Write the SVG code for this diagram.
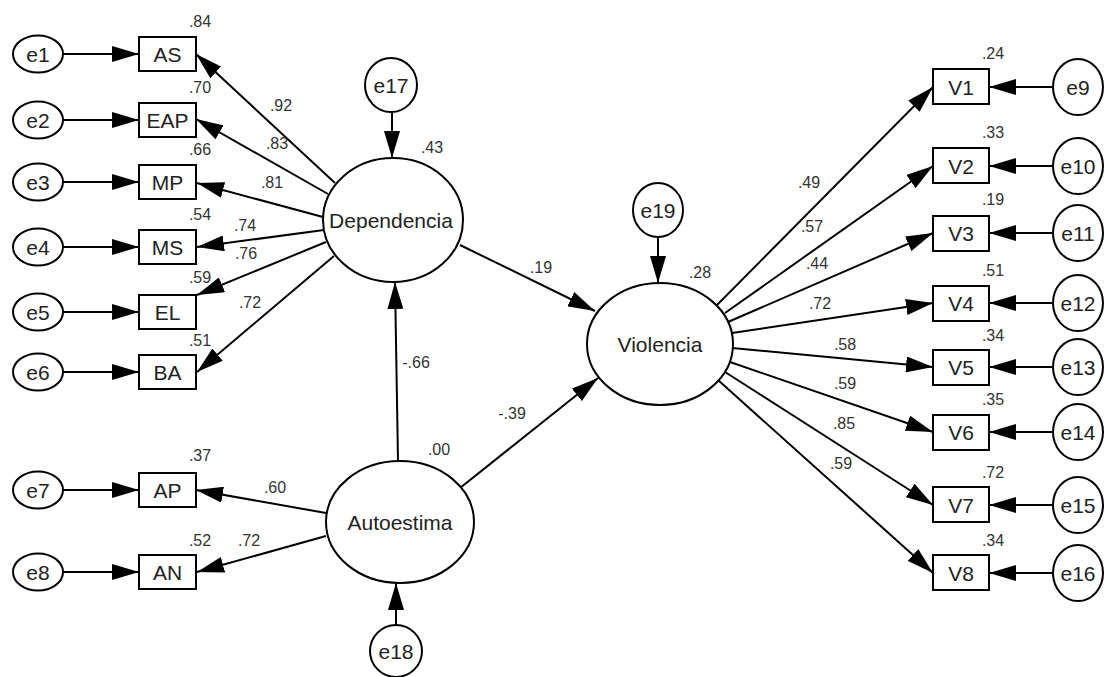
<svg xmlns="http://www.w3.org/2000/svg" width="1105" height="677" viewBox="0 0 1105 677">
<defs>
<marker id="ah" markerUnits="userSpaceOnUse" markerWidth="28" markerHeight="16" refX="27" refY="8" orient="auto">
<path d="M0,0 L27,8 L0,16 z" fill="#000"/>
</marker>
<style>
.n{fill:#fff;stroke:#000;stroke-width:2}
.t{font-family:"Liberation Sans",Arial,sans-serif;font-size:21px;fill:#222;text-anchor:middle;dominant-baseline:central}
.v{font-family:"Liberation Sans",Arial,sans-serif;font-size:16px;fill:#333;text-anchor:middle;dominant-baseline:central}
.c line{stroke:#000;stroke-width:2;marker-end:url(#ah)}
</style>
</defs>
<rect width="1105" height="677" fill="#fff"/>
<g class="c" id="connectors">
<line x1="63" y1="54" x2="139" y2="54"/>
<line x1="63" y1="120" x2="139" y2="120"/>
<line x1="63" y1="182" x2="139" y2="182"/>
<line x1="63" y1="247" x2="139" y2="247"/>
<line x1="63" y1="312" x2="139" y2="312"/>
<line x1="63" y1="372" x2="139" y2="372"/>
<line x1="63" y1="490" x2="139" y2="490"/>
<line x1="63" y1="572" x2="139" y2="572"/>
<line x1="335" y1="183" x2="196" y2="54"/>
<line x1="328" y1="194" x2="196" y2="119"/>
<line x1="323" y1="217" x2="197" y2="183"/>
<line x1="324" y1="230" x2="197" y2="247"/>
<line x1="326" y1="242" x2="197" y2="295"/>
<line x1="334" y1="256" x2="197" y2="372"/>
<line x1="326" y1="513" x2="196" y2="490"/>
<line x1="326" y1="536" x2="197" y2="572"/>
<line x1="398" y1="461" x2="395" y2="282"/>
<line x1="460" y1="488" x2="598" y2="378"/>
<line x1="460" y1="245" x2="595" y2="311"/>
<line x1="392" y1="112" x2="392" y2="158"/>
<line x1="396" y1="625" x2="396" y2="583"/>
<line x1="658" y1="237" x2="658" y2="283"/>
<line x1="717" y1="305" x2="933" y2="87"/>
<line x1="725" y1="313" x2="933" y2="166"/>
<line x1="728" y1="322" x2="933" y2="233"/>
<line x1="732" y1="333" x2="933" y2="303"/>
<line x1="732" y1="348" x2="933" y2="367"/>
<line x1="730" y1="362" x2="933" y2="432"/>
<line x1="725" y1="372" x2="933" y2="505"/>
<line x1="718" y1="380" x2="933" y2="573"/>
<line x1="1053" y1="87" x2="989" y2="87"/>
<line x1="1053" y1="166" x2="989" y2="166"/>
<line x1="1053" y1="233" x2="989" y2="233"/>
<line x1="1053" y1="303" x2="989" y2="303"/>
<line x1="1053" y1="367" x2="989" y2="367"/>
<line x1="1053" y1="432" x2="989" y2="432"/>
<line x1="1053" y1="505" x2="989" y2="505"/>
<line x1="1053" y1="573" x2="989" y2="573"/>
</g>
<g id="e1"><ellipse class="n" cx="38" cy="54" rx="25" ry="18.5"/><text class="t" x="38" y="54">e1</text></g>
<g id="e2"><ellipse class="n" cx="38" cy="120" rx="25" ry="18.5"/><text class="t" x="38" y="120">e2</text></g>
<g id="e3"><ellipse class="n" cx="38" cy="182" rx="25" ry="18.5"/><text class="t" x="38" y="182">e3</text></g>
<g id="e4"><ellipse class="n" cx="38" cy="247" rx="25" ry="18.5"/><text class="t" x="38" y="247">e4</text></g>
<g id="e5"><ellipse class="n" cx="38" cy="312" rx="25" ry="18.5"/><text class="t" x="38" y="312">e5</text></g>
<g id="e6"><ellipse class="n" cx="38" cy="372" rx="25" ry="18.5"/><text class="t" x="38" y="372">e6</text></g>
<g id="e7"><ellipse class="n" cx="38" cy="490" rx="25" ry="18.5"/><text class="t" x="38" y="490">e7</text></g>
<g id="e8"><ellipse class="n" cx="38" cy="572" rx="25" ry="18.5"/><text class="t" x="38" y="572">e8</text></g>
<g id="AS"><rect class="n" x="139" y="37" width="57" height="34"/><text class="t" x="167.5" y="54">AS</text><text class="v" x="200" y="21">.84</text></g>
<g id="EAP"><rect class="n" x="139" y="103" width="57" height="34"/><text class="t" x="167.5" y="120">EAP</text><text class="v" x="200" y="87">.70</text></g>
<g id="MP"><rect class="n" x="139" y="165" width="57" height="34"/><text class="t" x="167.5" y="182">MP</text><text class="v" x="200" y="149">.66</text></g>
<g id="MS"><rect class="n" x="139" y="230" width="57" height="34"/><text class="t" x="167.5" y="247">MS</text><text class="v" x="200" y="214">.54</text></g>
<g id="EL"><rect class="n" x="139" y="295" width="57" height="34"/><text class="t" x="167.5" y="312">EL</text><text class="v" x="200" y="277">.59</text></g>
<g id="BA"><rect class="n" x="139" y="355" width="57" height="34"/><text class="t" x="167.5" y="372">BA</text><text class="v" x="200" y="340">.51</text></g>
<g id="AP"><rect class="n" x="139" y="473" width="57" height="34"/><text class="t" x="167.5" y="490">AP</text><text class="v" x="200" y="455">.37</text></g>
<g id="AN"><rect class="n" x="139" y="555" width="57" height="34"/><text class="t" x="167.5" y="572">AN</text><text class="v" x="200" y="540">.52</text></g>
<g id="Dependencia"><ellipse class="n" cx="393" cy="220" rx="70" ry="62"/><text class="t" x="391" y="220">Dependencia</text><text class="v" x="432" y="147">.43</text></g>
<g id="Autoestima"><ellipse class="n" cx="400" cy="522" rx="74" ry="61"/><text class="t" x="400" y="522">Autoestima</text><text class="v" x="439" y="449">.00</text></g>
<g id="Violencia"><ellipse class="n" cx="660" cy="344" rx="73" ry="61"/><text class="t" x="660" y="344">Violencia</text><text class="v" x="700" y="272">.28</text></g>
<g id="e17"><ellipse class="n" cx="391" cy="85" rx="26" ry="27"/><text class="t" x="391" y="85">e17</text></g>
<g id="e18"><ellipse class="n" cx="396" cy="651" rx="26" ry="26"/><text class="t" x="396" y="651">e18</text></g>
<g id="e19"><ellipse class="n" cx="658" cy="210" rx="25" ry="27"/><text class="t" x="658" y="210">e19</text></g>
<g id="V1"><rect class="n" x="933" y="69" width="56" height="35"/><text class="t" x="961" y="87">V1</text><text class="v" x="993" y="53">.24</text></g>
<g id="V2"><rect class="n" x="933" y="148" width="56" height="35"/><text class="t" x="961" y="166">V2</text><text class="v" x="993" y="132">.33</text></g>
<g id="V3"><rect class="n" x="933" y="216" width="56" height="35"/><text class="t" x="961" y="233">V3</text><text class="v" x="993" y="199">.19</text></g>
<g id="V4"><rect class="n" x="933" y="286" width="56" height="35"/><text class="t" x="961" y="303">V4</text><text class="v" x="993" y="270">.51</text></g>
<g id="V5"><rect class="n" x="933" y="350" width="56" height="35"/><text class="t" x="961" y="367">V5</text><text class="v" x="993" y="335">.34</text></g>
<g id="V6"><rect class="n" x="933" y="415" width="56" height="35"/><text class="t" x="961" y="432">V6</text><text class="v" x="993" y="399">.35</text></g>
<g id="V7"><rect class="n" x="933" y="487" width="56" height="35"/><text class="t" x="961" y="505">V7</text><text class="v" x="993" y="472">.72</text></g>
<g id="V8"><rect class="n" x="933" y="555" width="56" height="35"/><text class="t" x="961" y="573">V8</text><text class="v" x="993" y="540">.34</text></g>
<g id="e9"><ellipse class="n" cx="1078" cy="87" rx="25" ry="28"/><text class="t" x="1078" y="87">e9</text></g>
<g id="e10"><ellipse class="n" cx="1078" cy="166" rx="25" ry="28"/><text class="t" x="1078" y="166">e10</text></g>
<g id="e11"><ellipse class="n" cx="1078" cy="233" rx="25" ry="28"/><text class="t" x="1078" y="233">e11</text></g>
<g id="e12"><ellipse class="n" cx="1078" cy="303" rx="25" ry="28"/><text class="t" x="1078" y="303">e12</text></g>
<g id="e13"><ellipse class="n" cx="1078" cy="367" rx="25" ry="28"/><text class="t" x="1078" y="367">e13</text></g>
<g id="e14"><ellipse class="n" cx="1078" cy="432" rx="25" ry="28"/><text class="t" x="1078" y="432">e14</text></g>
<g id="e15"><ellipse class="n" cx="1078" cy="505" rx="25" ry="28"/><text class="t" x="1078" y="505">e15</text></g>
<g id="e16"><ellipse class="n" cx="1078" cy="573" rx="25" ry="28"/><text class="t" x="1078" y="573">e16</text></g>
<g id="labels">
<text class="v" x="281" y="105">.92</text>
<text class="v" x="277" y="143">.83</text>
<text class="v" x="272" y="182">.81</text>
<text class="v" x="245" y="225">.74</text>
<text class="v" x="246" y="253">.76</text>
<text class="v" x="250" y="302">.72</text>
<text class="v" x="275" y="487">.60</text>
<text class="v" x="249" y="540">.72</text>
<text class="v" x="541" y="267">.19</text>
<text class="v" x="416" y="362">-.66</text>
<text class="v" x="512" y="413">-.39</text>
<text class="v" x="809" y="182">.49</text>
<text class="v" x="812" y="226">.57</text>
<text class="v" x="817" y="263">.44</text>
<text class="v" x="820" y="303">.72</text>
<text class="v" x="845" y="344">.58</text>
<text class="v" x="845" y="383">.59</text>
<text class="v" x="844" y="423">.85</text>
<text class="v" x="841" y="463">.59</text>
</g>
</svg>
